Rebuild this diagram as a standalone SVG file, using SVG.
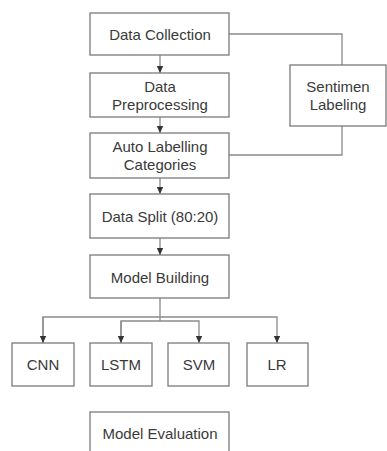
<svg xmlns="http://www.w3.org/2000/svg" width="387" height="451" viewBox="0 0 387 451">
<style>
.box{fill:#fff;stroke:#7a7a7a;stroke-width:1.3}
.t{font-family:"Liberation Sans",Arial,sans-serif;font-size:15px;fill:#3a3a3a;text-anchor:middle;dominant-baseline:central}
.ln{fill:none;stroke:#8a8a8a;stroke-width:1.3}
</style>
<defs>
<marker id="ah" markerWidth="8" markerHeight="8" refX="7" refY="4" orient="auto" markerUnits="userSpaceOnUse">
<path d="M0,0.8 L7,4 L0,7.2 Z" fill="#333"/>
</marker>
</defs>
<rect width="387" height="451" fill="#fff"/>
<g id="connectors">
<path class="ln" d="M160,55 V73" marker-end="url(#ah)"/>
<path class="ln" d="M160,117 V133" marker-end="url(#ah)"/>
<path class="ln" d="M160,178 V194" marker-end="url(#ah)"/>
<path class="ln" d="M160,238 V255" marker-end="url(#ah)"/>
<path class="ln" d="M229,34 H342 V65"/>
<path class="ln" d="M229,155 H342 V126"/>
<path class="ln" d="M160,298 V321"/>
<path class="ln" d="M43,343 V317 H277 V343" marker-end="url(#ah)"/>
<path class="ln" d="M43,317 V343" marker-end="url(#ah)"/>
<path class="ln" d="M121,343 V321 H199 V343" marker-end="url(#ah)"/>
<path class="ln" d="M121,321 V343" marker-end="url(#ah)"/>
</g>
<g id="data-collection"><rect class="box" x="90" y="13" width="139" height="42"/><text class="t" x="160" y="34">Data Collection</text></g>
<g id="data-preprocessing"><rect class="box" x="90" y="73" width="139" height="44"/><text class="t" x="160" y="86">Data</text><text class="t" x="160" y="104">Preprocessing</text></g>
<g id="auto-labelling"><rect class="box" x="90" y="133" width="139" height="45"/><text class="t" x="160" y="146">Auto Labelling</text><text class="t" x="160" y="164">Categories</text></g>
<g id="data-split"><rect class="box" x="90" y="194" width="139" height="44"/><text class="t" x="160" y="216">Data Split (80:20)</text></g>
<g id="model-building"><rect class="box" x="90" y="255" width="139" height="43"/><text class="t" x="160" y="277">Model Building</text></g>
<g id="sentimen-labeling"><rect class="box" x="290" y="65" width="96" height="61"/><text class="t" x="338" y="86">Sentimen</text><text class="t" x="338" y="104">Labeling</text></g>
<g id="cnn"><rect class="box" x="12" y="343" width="62" height="43"/><text class="t" x="43" y="364">CNN</text></g>
<g id="lstm"><rect class="box" x="90" y="343" width="62" height="43"/><text class="t" x="121" y="364">LSTM</text></g>
<g id="svm"><rect class="box" x="168" y="343" width="61" height="43"/><text class="t" x="199" y="364">SVM</text></g>
<g id="lr"><rect class="box" x="247" y="343" width="61" height="43"/><text class="t" x="277" y="364">LR</text></g>
<g id="model-evaluation"><rect class="box" x="90" y="412" width="139" height="50"/><text class="t" x="160" y="433">Model Evaluation</text></g>
</svg>
